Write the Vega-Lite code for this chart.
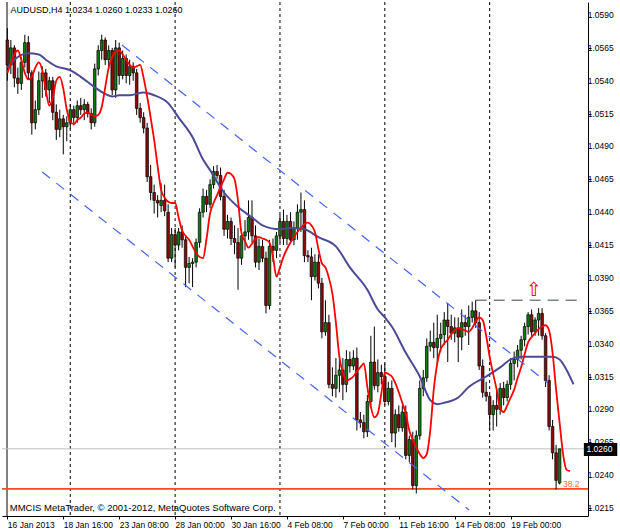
{
  "$schema": "https://vega.github.io/schema/vega-lite/v6.json",
  "width": 586,
  "height": 514,
  "autosize": {"type": "none"},
  "padding": {"left": 2, "top": 2, "right": 32, "bottom": 15},
  "background": "white",
  "config": {"view": {"stroke": null}, "axis": {"domainWidth": 1, "tickWidth": 1, "grid": false, "title": null, "labelOverlap": false}},
  "datasets": {
    "candles": [
      {"bar":0,"open":1.0571,"high":1.0580,"low":1.0540,"close":1.0552},
      {"bar":1,"open":1.0552,"high":1.0571,"low":1.0545,"close":1.0565},
      {"bar":2,"open":1.0565,"high":1.0567,"low":1.0535,"close":1.0542},
      {"bar":3,"open":1.0542,"high":1.0550,"low":1.0530,"close":1.0538},
      {"bar":4,"open":1.0538,"high":1.0558,"low":1.0533,"close":1.0554},
      {"bar":5,"open":1.0554,"high":1.0575,"low":1.0550,"close":1.0569},
      {"bar":6,"open":1.0569,"high":1.0574,"low":1.0541,"close":1.0546},
      {"bar":7,"open":1.0546,"high":1.0548,"low":1.0499,"close":1.0508},
      {"bar":8,"open":1.0508,"high":1.0525,"low":1.0503,"close":1.0518},
      {"bar":9,"open":1.0518,"high":1.0547,"low":1.0514,"close":1.0540},
      {"bar":10,"open":1.0540,"high":1.0551,"low":1.0527,"close":1.0546},
      {"bar":11,"open":1.0546,"high":1.0549,"low":1.0528,"close":1.0533},
      {"bar":12,"open":1.0533,"high":1.0543,"low":1.0523,"close":1.0540},
      {"bar":13,"open":1.0540,"high":1.0543,"low":1.0510,"close":1.0516},
      {"bar":14,"open":1.0516,"high":1.0522,"low":1.0495,"close":1.0503},
      {"bar":15,"open":1.0503,"high":1.0518,"low":1.0497,"close":1.0511},
      {"bar":16,"open":1.0511,"high":1.0514,"low":1.0484,"close":1.0505},
      {"bar":17,"open":1.0505,"high":1.0513,"low":1.0494,"close":1.0508},
      {"bar":18,"open":1.0508,"high":1.0522,"low":1.0503,"close":1.0518},
      {"bar":19,"open":1.0518,"high":1.0521,"low":1.0506,"close":1.0512},
      {"bar":20,"open":1.0512,"high":1.0525,"low":1.0508,"close":1.0521},
      {"bar":21,"open":1.0521,"high":1.0527,"low":1.0514,"close":1.0518},
      {"bar":22,"open":1.0518,"high":1.0526,"low":1.0510,"close":1.0522},
      {"bar":23,"open":1.0522,"high":1.0524,"low":1.0512,"close":1.0515},
      {"bar":24,"open":1.0515,"high":1.0519,"low":1.0503,"close":1.0508},
      {"bar":25,"open":1.0508,"high":1.0553,"low":1.0505,"close":1.0549},
      {"bar":26,"open":1.0549,"high":1.0567,"low":1.0544,"close":1.0563},
      {"bar":27,"open":1.0563,"high":1.0575,"low":1.0556,"close":1.0571},
      {"bar":28,"open":1.0571,"high":1.0573,"low":1.0552,"close":1.0556},
      {"bar":29,"open":1.0556,"high":1.0567,"low":1.0549,"close":1.0563},
      {"bar":30,"open":1.0563,"high":1.0565,"low":1.0529,"close":1.0533},
      {"bar":31,"open":1.0533,"high":1.0571,"low":1.0527,"close":1.0565},
      {"bar":32,"open":1.0565,"high":1.0569,"low":1.0537,"close":1.0544},
      {"bar":33,"open":1.0544,"high":1.0563,"low":1.0541,"close":1.0557},
      {"bar":34,"open":1.0557,"high":1.0560,"low":1.0538,"close":1.0544},
      {"bar":35,"open":1.0544,"high":1.0556,"low":1.0537,"close":1.0551},
      {"bar":36,"open":1.0551,"high":1.0554,"low":1.0540,"close":1.0546},
      {"bar":37,"open":1.0546,"high":1.0549,"low":1.0514,"close":1.0519},
      {"bar":38,"open":1.0519,"high":1.0523,"low":1.0508,"close":1.0512},
      {"bar":39,"open":1.0512,"high":1.0516,"low":1.0500,"close":1.0504},
      {"bar":40,"open":1.0504,"high":1.0508,"low":1.0463,"close":1.0467},
      {"bar":41,"open":1.0467,"high":1.0476,"low":1.0449,"close":1.0455},
      {"bar":42,"open":1.0455,"high":1.0461,"low":1.0439,"close":1.0449},
      {"bar":43,"open":1.0449,"high":1.0453,"low":1.0436,"close":1.0447},
      {"bar":44,"open":1.0445,"high":1.0462,"low":1.0440,"close":1.0449},
      {"bar":45,"open":1.0449,"high":1.0461,"low":1.0437,"close":1.0441},
      {"bar":46,"open":1.0440,"high":1.0446,"low":1.0402,"close":1.0405},
      {"bar":47,"open":1.0405,"high":1.0428,"low":1.0402,"close":1.0423},
      {"bar":48,"open":1.0423,"high":1.0428,"low":1.0398,"close":1.0415},
      {"bar":49,"open":1.0415,"high":1.0428,"low":1.0411,"close":1.0425},
      {"bar":50,"open":1.0425,"high":1.0430,"low":1.0413,"close":1.0419},
      {"bar":51,"open":1.0419,"high":1.0422,"low":1.0383,"close":1.0398},
      {"bar":52,"open":1.0398,"high":1.0406,"low":1.0386,"close":1.0401},
      {"bar":53,"open":1.0401,"high":1.0405,"low":1.0383,"close":1.0402},
      {"bar":54,"open":1.0402,"high":1.0420,"low":1.0398,"close":1.0417},
      {"bar":55,"open":1.0417,"high":1.0443,"low":1.0413,"close":1.0440},
      {"bar":56,"open":1.0440,"high":1.0458,"low":1.0436,"close":1.0452},
      {"bar":57,"open":1.0452,"high":1.0457,"low":1.0440,"close":1.0446},
      {"bar":58,"open":1.0446,"high":1.0465,"low":1.0443,"close":1.0461},
      {"bar":59,"open":1.0461,"high":1.0475,"low":1.0458,"close":1.0471},
      {"bar":60,"open":1.0471,"high":1.0476,"low":1.0465,"close":1.0468},
      {"bar":61,"open":1.0468,"high":1.0474,"low":1.0449,"close":1.0452},
      {"bar":62,"open":1.0452,"high":1.0457,"low":1.0422,"close":1.0427},
      {"bar":63,"open":1.0427,"high":1.0438,"low":1.0420,"close":1.0433},
      {"bar":64,"open":1.0433,"high":1.0436,"low":1.0415,"close":1.0420},
      {"bar":65,"open":1.0420,"high":1.0430,"low":1.0408,"close":1.0417},
      {"bar":66,"open":1.0417,"high":1.0428,"low":1.0381,"close":1.0405},
      {"bar":67,"open":1.0405,"high":1.0427,"low":1.0400,"close":1.0422},
      {"bar":68,"open":1.0422,"high":1.0434,"low":1.0411,"close":1.0425},
      {"bar":69,"open":1.0425,"high":1.0449,"low":1.0419,"close":1.0436},
      {"bar":70,"open":1.0436,"high":1.0449,"low":1.0417,"close":1.0422},
      {"bar":71,"open":1.0422,"high":1.0430,"low":1.0398,"close":1.0402},
      {"bar":72,"open":1.0402,"high":1.0420,"low":1.0396,"close":1.0414},
      {"bar":73,"open":1.0414,"high":1.0419,"low":1.0402,"close":1.0405},
      {"bar":74,"open":1.0405,"high":1.0410,"low":1.0363,"close":1.0369},
      {"bar":75,"open":1.0369,"high":1.0419,"low":1.0366,"close":1.0414},
      {"bar":76,"open":1.0414,"high":1.0420,"low":1.0402,"close":1.0411},
      {"bar":77,"open":1.0411,"high":1.0425,"low":1.0405,"close":1.0422},
      {"bar":78,"open":1.0422,"high":1.0438,"low":1.0417,"close":1.0433},
      {"bar":79,"open":1.0433,"high":1.0442,"low":1.0415,"close":1.0420},
      {"bar":80,"open":1.0420,"high":1.0438,"low":1.0415,"close":1.0433},
      {"bar":81,"open":1.0433,"high":1.0440,"low":1.0416,"close":1.0419},
      {"bar":82,"open":1.0419,"high":1.0433,"low":1.0415,"close":1.0428},
      {"bar":83,"open":1.0428,"high":1.0446,"low":1.0419,"close":1.0440},
      {"bar":84,"open":1.0440,"high":1.0455,"low":1.0425,"close":1.0442},
      {"bar":85,"open":1.0442,"high":1.0449,"low":1.0402,"close":1.0407},
      {"bar":86,"open":1.0407,"high":1.0411,"low":1.0402,"close":1.0406},
      {"bar":87,"open":1.0406,"high":1.0413,"low":1.0373,"close":1.0391},
      {"bar":88,"open":1.0391,"high":1.0408,"low":1.0388,"close":1.0402},
      {"bar":89,"open":1.0402,"high":1.0408,"low":1.0382,"close":1.0386},
      {"bar":90,"open":1.0386,"high":1.0390,"low":1.0344,"close":1.0349},
      {"bar":91,"open":1.0349,"high":1.0373,"low":1.0346,"close":1.0356},
      {"bar":92,"open":1.0356,"high":1.0362,"low":1.0306,"close":1.0309},
      {"bar":93,"open":1.0309,"high":1.0322,"low":1.0300,"close":1.0306},
      {"bar":94,"open":1.0306,"high":1.0329,"low":1.0299,"close":1.0316},
      {"bar":95,"open":1.0316,"high":1.0328,"low":1.0303,"close":1.0320},
      {"bar":96,"open":1.0320,"high":1.0329,"low":1.0297,"close":1.0309},
      {"bar":97,"open":1.0309,"high":1.0335,"low":1.0303,"close":1.0328},
      {"bar":98,"open":1.0328,"high":1.0334,"low":1.0318,"close":1.0323},
      {"bar":99,"open":1.0323,"high":1.0335,"low":1.0320,"close":1.0329},
      {"bar":100,"open":1.0329,"high":1.0337,"low":1.0274,"close":1.0282},
      {"bar":101,"open":1.0282,"high":1.0288,"low":1.0276,"close":1.0280},
      {"bar":102,"open":1.0280,"high":1.0286,"low":1.0268,"close":1.0273},
      {"bar":103,"open":1.0273,"high":1.0301,"low":1.0269,"close":1.0296},
      {"bar":104,"open":1.0296,"high":1.0346,"low":1.0293,"close":1.0326},
      {"bar":105,"open":1.0326,"high":1.0353,"low":1.0305,"close":1.0308},
      {"bar":106,"open":1.0308,"high":1.0328,"low":1.0303,"close":1.0318},
      {"bar":107,"open":1.0318,"high":1.0324,"low":1.0309,"close":1.0315},
      {"bar":108,"open":1.0315,"high":1.0325,"low":1.0293,"close":1.0296},
      {"bar":109,"open":1.0296,"high":1.0311,"low":1.0293,"close":1.0306},
      {"bar":110,"open":1.0306,"high":1.0312,"low":1.0265,"close":1.0272},
      {"bar":111,"open":1.0272,"high":1.0290,"low":1.0261,"close":1.0286},
      {"bar":112,"open":1.0286,"high":1.0293,"low":1.0273,"close":1.0276},
      {"bar":113,"open":1.0276,"high":1.0293,"low":1.0273,"close":1.0288},
      {"bar":114,"open":1.0288,"high":1.0293,"low":1.0252,"close":1.0255},
      {"bar":115,"open":1.0255,"high":1.0270,"low":1.0250,"close":1.0267},
      {"bar":116,"open":1.0267,"high":1.0273,"low":1.0229,"close":1.0232},
      {"bar":117,"open":1.0232,"high":1.0274,"low":1.0226,"close":1.0270},
      {"bar":118,"open":1.0270,"high":1.0312,"low":1.0267,"close":1.0306},
      {"bar":119,"open":1.0306,"high":1.0320,"low":1.0300,"close":1.0314},
      {"bar":120,"open":1.0314,"high":1.0344,"low":1.0311,"close":1.0338},
      {"bar":121,"open":1.0338,"high":1.0350,"low":1.0334,"close":1.0341},
      {"bar":122,"open":1.0341,"high":1.0356,"low":1.0329,"close":1.0337},
      {"bar":123,"open":1.0337,"high":1.0362,"low":1.0325,"close":1.0344},
      {"bar":124,"open":1.0344,"high":1.0356,"low":1.0334,"close":1.0347},
      {"bar":125,"open":1.0347,"high":1.0364,"low":1.0339,"close":1.0358},
      {"bar":126,"open":1.0358,"high":1.0371,"low":1.0326,"close":1.0353},
      {"bar":127,"open":1.0353,"high":1.0362,"low":1.0343,"close":1.0348},
      {"bar":128,"open":1.0348,"high":1.0360,"low":1.0341,"close":1.0352},
      {"bar":129,"open":1.0352,"high":1.0360,"low":1.0326,"close":1.0345},
      {"bar":130,"open":1.0345,"high":1.0366,"low":1.0335,"close":1.0356},
      {"bar":131,"open":1.0356,"high":1.0362,"low":1.0346,"close":1.0353},
      {"bar":132,"open":1.0353,"high":1.0369,"low":1.0339,"close":1.0360},
      {"bar":133,"open":1.0360,"high":1.0372,"low":1.0356,"close":1.0365},
      {"bar":134,"open":1.0365,"high":1.0373,"low":1.0352,"close":1.0356},
      {"bar":135,"open":1.0356,"high":1.0364,"low":1.0320,"close":1.0323},
      {"bar":136,"open":1.0323,"high":1.0328,"low":1.0299,"close":1.0303},
      {"bar":137,"open":1.0303,"high":1.0311,"low":1.0296,"close":1.0300},
      {"bar":138,"open":1.0300,"high":1.0301,"low":1.0274,"close":1.0286},
      {"bar":139,"open":1.0286,"high":1.0297,"low":1.0274,"close":1.0293},
      {"bar":140,"open":1.0293,"high":1.0306,"low":1.0277,"close":1.0290},
      {"bar":141,"open":1.0290,"high":1.0310,"low":1.0286,"close":1.0306},
      {"bar":142,"open":1.0306,"high":1.0311,"low":1.0293,"close":1.0299},
      {"bar":143,"open":1.0299,"high":1.0312,"low":1.0296,"close":1.0309},
      {"bar":144,"open":1.0309,"high":1.0329,"low":1.0305,"close":1.0325},
      {"bar":145,"open":1.0325,"high":1.0334,"low":1.0312,"close":1.0328},
      {"bar":146,"open":1.0328,"high":1.0339,"low":1.0322,"close":1.0335},
      {"bar":147,"open":1.0335,"high":1.0346,"low":1.0328,"close":1.0343},
      {"bar":148,"open":1.0343,"high":1.0356,"low":1.0338,"close":1.0353},
      {"bar":149,"open":1.0353,"high":1.0364,"low":1.0347,"close":1.0362},
      {"bar":150,"open":1.0362,"high":1.0366,"low":1.0346,"close":1.0349},
      {"bar":151,"open":1.0349,"high":1.0360,"low":1.0346,"close":1.0358},
      {"bar":152,"open":1.0358,"high":1.0367,"low":1.0346,"close":1.0363},
      {"bar":153,"open":1.0363,"high":1.0367,"low":1.0343,"close":1.0346},
      {"bar":154,"open":1.0346,"high":1.0348,"low":1.0307,"close":1.0312},
      {"bar":155,"open":1.0312,"high":1.0316,"low":1.0274,"close":1.0277},
      {"bar":156,"open":1.0277,"high":1.0282,"low":1.0252,"close":1.0257},
      {"bar":157,"open":1.0257,"high":1.0263,"low":1.0229,"close":1.0236},
      {"bar":158,"open":1.0234,"high":1.0260,"low":1.0233,"close":1.0260}
    ],
    "fastMA": [
      {"bar":0,"price":1.0546},{"bar":1,"price":1.0553},{"bar":2,"price":1.0560},{"bar":3,"price":1.0563},{"bar":4,"price":1.0556},
      {"bar":5,"price":1.0546},{"bar":6,"price":1.0541},{"bar":7,"price":1.0543},{"bar":8,"price":1.0550},{"bar":9,"price":1.0554},
      {"bar":10,"price":1.0548},{"bar":11,"price":1.0533},{"bar":12,"price":1.0521},{"bar":13,"price":1.0527},{"bar":14,"price":1.0540},
      {"bar":15,"price":1.0543},{"bar":16,"price":1.0534},{"bar":17,"price":1.0518},{"bar":18,"price":1.0509},{"bar":19,"price":1.0507},
      {"bar":20,"price":1.0510},{"bar":21,"price":1.0512},{"bar":22,"price":1.0515},{"bar":23,"price":1.0516},{"bar":24,"price":1.0514},
      {"bar":25,"price":1.0513},{"bar":26,"price":1.0514},{"bar":27,"price":1.0520},{"bar":28,"price":1.0535},{"bar":29,"price":1.0550},
      {"bar":30,"price":1.0558},{"bar":31,"price":1.0562},{"bar":32,"price":1.0563},{"bar":33,"price":1.0560},{"bar":34,"price":1.0556},
      {"bar":35,"price":1.0552},{"bar":36,"price":1.0550},{"bar":37,"price":1.0551},{"bar":38,"price":1.0552},{"bar":39,"price":1.0542},
      {"bar":40,"price":1.0528},{"bar":41,"price":1.0512},{"bar":42,"price":1.0495},{"bar":43,"price":1.0475},{"bar":44,"price":1.0457},
      {"bar":45,"price":1.0451},{"bar":46,"price":1.0448},{"bar":47,"price":1.0447},{"bar":48,"price":1.0447},{"bar":49,"price":1.0436},
      {"bar":50,"price":1.0426},{"bar":51,"price":1.0422},{"bar":52,"price":1.0419},{"bar":53,"price":1.0414},{"bar":54,"price":1.0409},
      {"bar":55,"price":1.0406},{"bar":56,"price":1.0405},{"bar":57,"price":1.0420},{"bar":58,"price":1.0439},{"bar":59,"price":1.0447},
      {"bar":60,"price":1.0453},{"bar":61,"price":1.0459},{"bar":62,"price":1.0465},{"bar":63,"price":1.0470},{"bar":64,"price":1.0469},
      {"bar":65,"price":1.0465},{"bar":66,"price":1.0449},{"bar":67,"price":1.0424},{"bar":68,"price":1.0418},{"bar":69,"price":1.0413},
      {"bar":70,"price":1.0416},{"bar":71,"price":1.0420},{"bar":72,"price":1.0421},{"bar":73,"price":1.0420},{"bar":74,"price":1.0419},
      {"bar":75,"price":1.0417},{"bar":76,"price":1.0406},{"bar":77,"price":1.0391},{"bar":78,"price":1.0398},{"bar":79,"price":1.0406},
      {"bar":80,"price":1.0412},{"bar":81,"price":1.0417},{"bar":82,"price":1.0421},{"bar":83,"price":1.0425},{"bar":84,"price":1.0428},
      {"bar":85,"price":1.0431},{"bar":86,"price":1.0432},{"bar":87,"price":1.0430},{"bar":88,"price":1.0425},{"bar":89,"price":1.0412},
      {"bar":90,"price":1.0401},{"bar":91,"price":1.0398},{"bar":92,"price":1.0390},{"bar":93,"price":1.0378},{"bar":94,"price":1.0356},
      {"bar":95,"price":1.0330},{"bar":96,"price":1.0318},{"bar":97,"price":1.0312},{"bar":98,"price":1.0313},{"bar":99,"price":1.0315},
      {"bar":100,"price":1.0319},{"bar":101,"price":1.0322},{"bar":102,"price":1.0325},{"bar":103,"price":1.0307},{"bar":104,"price":1.0292},
      {"bar":105,"price":1.0284},{"bar":106,"price":1.0287},{"bar":107,"price":1.0302},{"bar":108,"price":1.0318},{"bar":109,"price":1.0317},
      {"bar":110,"price":1.0315},{"bar":111,"price":1.0310},{"bar":112,"price":1.0303},{"bar":113,"price":1.0295},{"bar":114,"price":1.0287},
      {"bar":115,"price":1.0274},{"bar":116,"price":1.0267},{"bar":117,"price":1.0261},{"bar":118,"price":1.0256},{"bar":119,"price":1.0253},
      {"bar":120,"price":1.0256},{"bar":121,"price":1.0274},{"bar":122,"price":1.0305},{"bar":123,"price":1.0325},{"bar":124,"price":1.0336},
      {"bar":125,"price":1.0340},{"bar":126,"price":1.0343},{"bar":127,"price":1.0347},{"bar":128,"price":1.0350},{"bar":129,"price":1.0352},
      {"bar":130,"price":1.0351},{"bar":131,"price":1.0350},{"bar":132,"price":1.0349},{"bar":133,"price":1.0352},{"bar":134,"price":1.0357},
      {"bar":135,"price":1.0360},{"bar":136,"price":1.0358},{"bar":137,"price":1.0346},{"bar":138,"price":1.0330},{"bar":139,"price":1.0317},
      {"bar":140,"price":1.0305},{"bar":141,"price":1.0291},{"bar":142,"price":1.0288},{"bar":143,"price":1.0293},{"bar":144,"price":1.0299},
      {"bar":145,"price":1.0305},{"bar":146,"price":1.0314},{"bar":147,"price":1.0322},{"bar":148,"price":1.0332},{"bar":149,"price":1.0341},
      {"bar":150,"price":1.0345},{"bar":151,"price":1.0348},{"bar":152,"price":1.0351},{"bar":153,"price":1.0353},{"bar":154,"price":1.0354},
      {"bar":155,"price":1.0350},{"bar":156,"price":1.0333},{"bar":157,"price":1.0305},{"bar":158,"price":1.0280},{"bar":159,"price":1.0256},
      {"bar":160,"price":1.0244},{"bar":161,"price":1.0243}
    ],
    "slowMA": [
      {"bar":0,"price":1.0550},{"bar":2,"price":1.0556},{"bar":6,"price":1.0561},{"bar":9,"price":1.0560},{"bar":11,"price":1.0556},
      {"bar":14,"price":1.0551},{"bar":18,"price":1.0548},{"bar":21,"price":1.0543},{"bar":25,"price":1.0535},{"bar":28,"price":1.0530},
      {"bar":30,"price":1.0528},{"bar":32,"price":1.0529},{"bar":35,"price":1.0529},{"bar":39,"price":1.0531},{"bar":42,"price":1.0529},
      {"bar":46,"price":1.0523},{"bar":49,"price":1.0512},{"bar":53,"price":1.0497},{"bar":56,"price":1.0480},{"bar":58,"price":1.0472},
      {"bar":62,"price":1.0455},{"bar":66,"price":1.0444},{"bar":70,"price":1.0436},{"bar":73,"price":1.0430},{"bar":78,"price":1.0427},
      {"bar":81,"price":1.0428},{"bar":85,"price":1.0427},{"bar":89,"price":1.0421},{"bar":94,"price":1.0414},{"bar":98,"price":1.0398},
      {"bar":103,"price":1.0381},{"bar":106,"price":1.0366},{"bar":108,"price":1.0360},{"bar":110,"price":1.0353},{"bar":114,"price":1.0333},
      {"bar":118,"price":1.0315},{"bar":121,"price":1.0297},{"bar":123,"price":1.0294},{"bar":125,"price":1.0295},{"bar":129,"price":1.0299},
      {"bar":132,"price":1.0307},{"bar":137,"price":1.0315},{"bar":141,"price":1.0322},{"bar":144,"price":1.0328},{"bar":147,"price":1.0330},
      {"bar":152,"price":1.0330},{"bar":156,"price":1.0330},{"bar":158,"price":1.0328},{"bar":160,"price":1.0320},{"bar":162,"price":1.0309}
    ],
    "priceTicks": [
      {"price":1.0215},{"price":1.0240},{"price":1.0265},{"price":1.0290},{"price":1.0315},{"price":1.0340},{"price":1.0365},{"price":1.0390},
      {"price":1.0415},{"price":1.0440},{"price":1.0465},{"price":1.0490},{"price":1.0515},{"price":1.0540},{"price":1.0565},{"price":1.0590}
    ]
  },
  "layer": [
    {
      "data": {"values": [{"bar": 18}, {"bar": 48}, {"bar": 78}, {"bar": 108}, {"bar": 138}]},
      "mark": {"type": "rule", "color": "#000000", "strokeWidth": 1, "strokeDash": [3, 3]},
      "encoding": {
        "x": {"field": "bar", "type": "quantitative", "title": null, "scale": {"domain": [-0.1, 164.7], "nice": false, "zero": false}}
      }
    },
    {
      "data": {"values": [{"bar": -0.1}]},
      "mark": {"type": "rule", "color": "#000000", "strokeWidth": 1},
      "encoding": {
        "x": {"field": "bar", "type": "quantitative", "title": null, "scale": {"domain": [-0.1, 164.7], "nice": false, "zero": false}}
      }
    },
    {
      "data": {"values": [{"price": 1.026}]},
      "mark": {"type": "rule", "color": "#c0c0c0", "strokeWidth": 1},
      "encoding": {
        "y": {"field": "price", "type": "quantitative", "title": null, "scale": {"domain": [1.02089, 1.05999], "nice": false, "zero": false}}
      }
    },
    {
      "data": {"values": [{"price": 1.02295}]},
      "mark": {"type": "rule", "color": "#ff4a1c", "strokeWidth": 1.6},
      "encoding": {
        "y": {"field": "price", "type": "quantitative", "title": null, "scale": {"domain": [1.02089, 1.05999], "nice": false, "zero": false}}
      }
    },
    {
      "data": {"values": [{"start": 134, "end": 164.7, "price": 1.0373}]},
      "mark": {"type": "rule", "color": "#7a8585", "strokeWidth": 1.5, "strokeDash": [11, 7]},
      "encoding": {
        "x": {"field": "start", "type": "quantitative", "title": null, "scale": {"domain": [-0.1, 164.7], "nice": false, "zero": false}},
        "x2": {"field": "end"},
        "y": {"field": "price", "type": "quantitative", "title": null, "scale": {"domain": [1.02089, 1.05999], "nice": false, "zero": false}}
      }
    },
    {
      "data": {"name": "candles"},
      "mark": {"type": "rule", "color": "#000000", "strokeWidth": 1},
      "encoding": {
        "x": {
          "field": "bar", "type": "quantitative", "title": null,
          "scale": {"domain": [-0.1, 164.7], "nice": false, "zero": false},
          "axis": {
            "orient": "bottom", "title": null, "grid": false,
            "values": [0, 16, 32, 48, 64, 80, 96, 112, 128, 144],
            "labelExpr": "['16 Jan 2013','18 Jan 16:00','23 Jan 08:00','28 Jan 00:00','30 Jan 16:00','4 Feb 08:00','7 Feb 00:00','11 Feb 16:00','14 Feb 08:00','19 Feb 00:00'][round(datum.value / 16)]",
            "labelAlign": "left", "labelBaseline": "top", "labelPadding": 1, "labelOffset": 0,
            "labelFont": "Liberation Sans", "labelFontSize": 8.5, "labelColor": "#000000",
            "labelOverlap": false, "labelFlush": false, "labelBound": false,
            "tickSize": 3, "tickColor": "#000000", "domainColor": "#000000"
          }
        },
        "y": {
          "field": "low", "type": "quantitative", "title": null,
          "scale": {"domain": [1.02089, 1.05999], "nice": false, "zero": false},
          "axis": {
            "orient": "right", "title": null, "grid": false, "labels": false,
            "values": [1.0215, 1.024, 1.0265, 1.029, 1.0315, 1.034, 1.0365, 1.039, 1.0415, 1.044, 1.0465, 1.049, 1.0515, 1.054, 1.0565, 1.059],
            "tickSize": 3, "tickColor": "#000000", "domainColor": "#000000"
          }
        },
        "y2": {"field": "high"}
      }
    },
    {
      "data": {"name": "candles"},
      "mark": {"type": "bar", "width": 2.6, "stroke": "#000000", "strokeWidth": 0.7},
      "encoding": {
        "x": {"field": "bar", "type": "quantitative", "title": null, "scale": {"domain": [-0.1, 164.7], "nice": false, "zero": false}},
        "y": {"field": "open", "type": "quantitative", "title": null, "scale": {"domain": [1.02089, 1.05999], "nice": false, "zero": false}},
        "y2": {"field": "close"},
        "fill": {"condition": {"test": "datum.close >= datum.open", "value": "#0f7a0f"}, "value": "#8b0a0a"}
      }
    },
    {
      "data": {"name": "slowMA"},
      "mark": {"type": "line", "color": "#4a4a96", "strokeWidth": 2, "interpolate": "monotone"},
      "encoding": {
        "x": {"field": "bar", "type": "quantitative", "title": null, "scale": {"domain": [-0.1, 164.7], "nice": false, "zero": false}},
        "y": {"field": "price", "type": "quantitative", "title": null, "scale": {"domain": [1.02089, 1.05999], "nice": false, "zero": false}}
      }
    },
    {
      "data": {"name": "fastMA"},
      "mark": {"type": "line", "color": "#ff0000", "strokeWidth": 1.8, "interpolate": "monotone"},
      "encoding": {
        "x": {"field": "bar", "type": "quantitative", "title": null, "scale": {"domain": [-0.1, 164.7], "nice": false, "zero": false}},
        "y": {"field": "price", "type": "quantitative", "title": null, "scale": {"domain": [1.02089, 1.05999], "nice": false, "zero": false}}
      }
    },
    {
      "data": {"values": [
        {"line": "upper", "bar": 32.8, "price": 1.05672},
        {"line": "upper", "bar": 154.6, "price": 1.03101},
        {"line": "lower", "bar": 10.0, "price": 1.04706},
        {"line": "lower", "bar": 132.1, "price": 1.02135}
      ]},
      "mark": {"type": "line", "color": "#4862f2", "strokeWidth": 1.2, "strokeDash": [10, 8]},
      "encoding": {
        "x": {"field": "bar", "type": "quantitative", "title": null, "scale": {"domain": [-0.1, 164.7], "nice": false, "zero": false}},
        "y": {"field": "price", "type": "quantitative", "title": null, "scale": {"domain": [1.02089, 1.05999], "nice": false, "zero": false}},
        "detail": {"field": "line"}
      }
    },
    {
      "data": {"name": "priceTicks"},
      "mark": {"type": "text", "align": "left", "baseline": "middle", "font": "Liberation Sans", "fontSize": 8.5, "color": "#000000", "clip": false},
      "encoding": {
        "text": {"field": "price", "type": "quantitative", "format": ".4f"},
        "x": {"datum": 166.05, "type": "quantitative", "title": null, "scale": {"domain": [-0.1, 164.7], "nice": false, "zero": false}},
        "y": {"field": "price", "type": "quantitative", "title": null, "scale": {"domain": [1.02089, 1.05999], "nice": false, "zero": false}}
      }
    },
    {
      "data": {"values": [{"label": "AUDUSD,H4  1.0234 1.0260 1.0233 1.0260"}]},
      "mark": {"type": "text", "align": "left", "baseline": "middle", "font": "Liberation Sans", "fontSize": 9, "color": "#000000"},
      "encoding": {
        "text": {"field": "label"},
        "x": {"datum": 0.9, "type": "quantitative", "title": null, "scale": {"domain": [-0.1, 164.7], "nice": false, "zero": false}},
        "y": {"datum": 1.05938, "type": "quantitative", "title": null, "scale": {"domain": [1.02089, 1.05999], "nice": false, "zero": false}}
      }
    },
    {
      "data": {"values": [{"label": "MMCIS MetaTrader, © 2001-2012, MetaQuotes Software Corp."}]},
      "mark": {"type": "text", "align": "left", "baseline": "middle", "font": "Liberation Sans", "fontSize": 9.5, "color": "#000000"},
      "encoding": {
        "text": {"field": "label"},
        "x": {"datum": 0.7, "type": "quantitative", "title": null, "scale": {"domain": [-0.1, 164.7], "nice": false, "zero": false}},
        "y": {"datum": 1.0215, "type": "quantitative", "title": null, "scale": {"domain": [1.02089, 1.05999], "nice": false, "zero": false}}
      }
    },
    {
      "data": {"values": [{"label": "38.2"}]},
      "mark": {"type": "text", "align": "right", "baseline": "middle", "font": "Liberation Sans", "fontSize": 8.5, "color": "#ff6a3d"},
      "encoding": {
        "text": {"field": "label"},
        "x": {"datum": 163.7, "type": "quantitative", "title": null, "scale": {"domain": [-0.1, 164.7], "nice": false, "zero": false}},
        "y": {"datum": 1.02333, "type": "quantitative", "title": null, "scale": {"domain": [1.02089, 1.05999], "nice": false, "zero": false}}
      }
    },
    {
      "data": {"values": [{"label": "⇧"}]},
      "mark": {"type": "text", "align": "center", "baseline": "middle", "font": "DejaVu Sans", "fontSize": 19, "color": "#ff0000"},
      "encoding": {
        "text": {"field": "label"},
        "x": {"datum": 150.6, "type": "quantitative", "title": null, "scale": {"domain": [-0.1, 164.7], "nice": false, "zero": false}},
        "y": {"datum": 1.0381, "type": "quantitative", "title": null, "scale": {"domain": [1.02089, 1.05999], "nice": false, "zero": false}}
      }
    },
    {
      "data": {"values": [{"label": "1.0260"}]},
      "mark": {"type": "rect", "color": "#000000", "clip": false},
      "encoding": {
        "x": {"datum": 164.95, "type": "quantitative", "title": null, "scale": {"domain": [-0.1, 164.7], "nice": false, "zero": false}},
        "x2": {"datum": 174.5},
        "y": {"datum": 1.02645, "type": "quantitative", "title": null, "scale": {"domain": [1.02089, 1.05999], "nice": false, "zero": false}},
        "y2": {"datum": 1.02546}
      }
    },
    {
      "data": {"values": [{"label": "1.0260"}]},
      "mark": {"type": "text", "align": "left", "baseline": "middle", "font": "Liberation Sans", "fontSize": 8.5, "color": "#ffffff"},
      "encoding": {
        "text": {"field": "label"},
        "x": {"datum": 165.7, "type": "quantitative", "title": null, "scale": {"domain": [-0.1, 164.7], "nice": false, "zero": false}},
        "y": {"datum": 1.02595, "type": "quantitative", "title": null, "scale": {"domain": [1.02089, 1.05999], "nice": false, "zero": false}}
      }
    }
  ]
}
